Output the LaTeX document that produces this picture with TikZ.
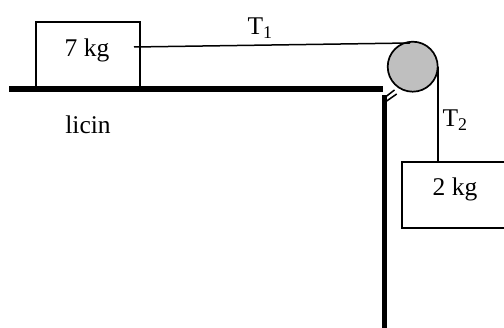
\documentclass[tikz,border=0pt]{standalone}
\usepackage{fontspec}
\setmainfont{Liberation Serif}
\begin{document}
\begin{tikzpicture}[x=1pt,y=-1pt,
  massbox/.style={draw=black,line width=1.8pt,fill=none,inner sep=0pt,anchor=north west},
  lbl/.style={inner sep=0pt,font=\fontsize{25.5}{28}\selectfont},
  rope/.style={draw=black,line width=1.5pt},
  thick surface/.style={draw=black,line width=6pt},
  pulleywheel/.style={circle,draw=black,fill=black!25,line width=1.7pt,minimum size=50pt,inner sep=0pt}]
\useasboundingbox (0,0) rectangle (504,328);
\clip (0,0) rectangle (504,328);
\node[massbox,minimum width=104pt,minimum height=66pt] (m7) at (35,21) {};
\node[massbox,minimum width=120pt,minimum height=66pt] (m2) at (401,161) {};
\node[pulleywheel] (p) at (412.7,66.7) {};
\coordinate (floorL) at (9,89);
\coordinate (floorR) at (383,89);
\coordinate (wallT) at (384.5,95);
\coordinate (wallB) at (384.5,328);
\coordinate (ropeA) at (134,47);
\coordinate (ropeB) at (410,43);
\coordinate (ropeC) at (438,66.7);
\coordinate (ropeD) at (438,161);
\coordinate (b1a) at (386.7,96);
\coordinate (b1b) at (394.5,90);
\coordinate (b2a) at (386.7,101);
\coordinate (b2b) at (396.7,94);
\draw[thick surface] (floorL) -- (floorR);
\draw[thick surface,line width=5.5pt] (wallT) -- (wallB);
\draw[rope] (ropeA) -- (ropeB);
\draw[rope] (ropeC) -- (ropeD);
\draw[rope] (b1a) -- (b1b);
\draw[rope] (b2a) -- (b2b);
\node[lbl] (t7) at (87,50) {7 kg};
\node[lbl] (t2kg) at (455,189.5) {2 kg};
\node[lbl] (lic) at (88,125) {licin};
\node[lbl] (T1) at (260,28) {T\textsubscript{1}};
\node[lbl] (T2) at (455,120) {T\textsubscript{2}};
\end{tikzpicture}
\end{document}
